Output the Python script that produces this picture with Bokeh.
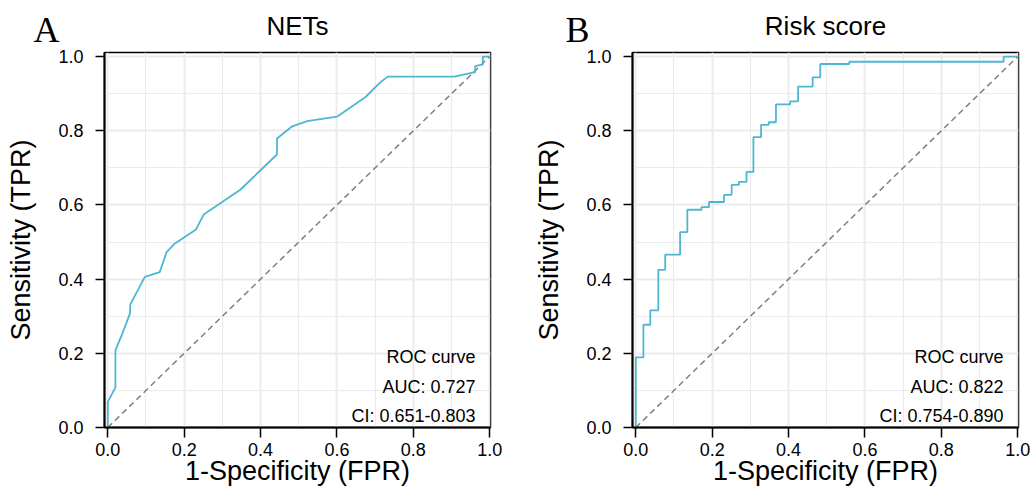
from bokeh.plotting import figure
from bokeh.layouts import row
from bokeh.models import Label, FixedTicker, Range1d, Title
from bokeh.embed import file_html
from bokeh.resources import INLINE

# ---- data ----
tick_values = [0.0, 0.2, 0.4, 0.6, 0.8, 1.0]
tick_labels = ["0.0", "0.2", "0.4", "0.6", "0.8", "1.0"]
minor_values = [0.1, 0.3, 0.5, 0.7, 0.9]

nets_fpr = [0.0, 0.0, 0.020, 0.020, 0.038, 0.058, 0.059, 0.097, 0.136, 0.154,
            0.173, 0.231, 0.251, 0.347, 0.443, 0.443, 0.483, 0.522, 0.600, 0.675,
            0.714, 0.733, 0.907, 0.962, 0.962, 0.982, 0.982, 1.0]
nets_tpr = [0.0, 0.069, 0.108, 0.208, 0.253, 0.307, 0.332, 0.406, 0.419, 0.473,
            0.494, 0.534, 0.574, 0.641, 0.736, 0.779, 0.812, 0.826, 0.838, 0.891,
            0.931, 0.946, 0.946, 0.958, 0.974, 0.979, 1.0, 1.0]

risk_fpr = [0.0, 0.0, 0.020, 0.038, 0.059, 0.077, 0.116, 0.135, 0.172, 0.192,
            0.231, 0.251, 0.270, 0.290, 0.308, 0.328, 0.348, 0.367, 0.404, 0.425,
            0.463, 0.483, 0.559, 0.963, 1.0]
risk_tpr = [0.0, 0.189, 0.277, 0.316, 0.425, 0.466, 0.527, 0.587, 0.594, 0.608,
            0.627, 0.654, 0.662, 0.689, 0.783, 0.816, 0.823, 0.871, 0.879, 0.919,
            0.944, 0.980, 0.986, 1.0, 1.0]

diag = [0.0, 1.0]

nets_text = ["ROC curve", "AUC: 0.727", "CI: 0.651-0.803"]
risk_text = ["ROC curve", "AUC: 0.822", "CI: 0.754-0.890"]

x_title = "1-Specificity (FPR)"
y_title = "Sensitivity (TPR)"

SANS = "Liberation Sans"
SERIF = "Liberation Serif"
CURVE = "#4DB6D3"
GRID = "#EBEBEB"


def make_panel(letter, title, width, left, right, letter_offset):
    p = figure(width=width, height=486,
               x_range=Range1d(-0.0086, 1.002), y_range=Range1d(0.0, 1.011),
               output_backend="svg", toolbar_location=None,
               min_border_left=left, min_border_right=right,
               min_border_top=52, min_border_bottom=59,
               title=title)
    p.background_fill_color = "white"
    p.border_fill_color = "white"
    p.outline_line_color = "black"
    p.outline_line_width = 1.5
    p.title.align = "center"
    p.title.text_font = SANS
    p.title.text_font_size = "26px"
    p.title.text_font_style = "normal"
    p.title.text_color = "black"
    p.title.standoff = -73

    # panel letter: a Title row next to the frame
    p.add_layout(Title(text=letter, align="left", offset=letter_offset,
                       standoff=6, text_font=SERIF, text_font_size="36px",
                       text_font_style="normal", text_color="black"), "above")

    for ax in (p.xaxis[0], p.yaxis[0]):
        ax.ticker = FixedTicker(ticks=tick_values, minor_ticks=minor_values)
        ax.major_label_overrides = {v: s for v, s in zip(tick_values, tick_labels)}
        ax.axis_line_color = "black"
        ax.axis_line_width = 2
        ax.major_tick_line_color = "black"
        ax.major_tick_line_width = 1.5
        ax.major_tick_in = 0
        ax.minor_tick_line_color = None
        ax.major_label_text_font = SANS
        ax.major_label_text_font_size = "18px"
        ax.major_label_text_color = "black"
        ax.axis_label_text_font = SANS
        ax.axis_label_text_font_size = "27px"
        ax.axis_label_text_font_style = "normal"
        ax.axis_label_text_color = "black"

    p.yaxis.axis_label = y_title
    p.xaxis.major_tick_out = 10
    p.xaxis.major_label_standoff = 5
    p.yaxis.major_tick_out = 9
    p.yaxis.major_label_standoff = 12
    p.yaxis.axis_label_standoff = 19

    # x-axis title as a row below the axis (lets it sit low, as in the reference)
    p.add_layout(Title(text=x_title, align="center", standoff=-10,
                       text_font=SANS, text_font_size="27px",
                       text_font_style="normal", text_color="black"), "below")

    for g in (p.xgrid[0], p.ygrid[0]):
        g.grid_line_color = GRID
        g.grid_line_width = 2
        g.minor_grid_line_color = GRID
        g.minor_grid_line_width = 1.2

    p.line(diag, diag, line_color="#7F7F7F", line_width=1.5, line_dash="6 4")
    return p


pA = make_panel("A", "NETs", 515, 104, 25, -71)
pA.line(nets_fpr, nets_tpr, line_color=CURVE, line_width=1.8)

pB = make_panel("B", "Risk score", 516, 117, 13, -67)
pB.step(risk_fpr, risk_tpr, mode="after", line_color=CURVE, line_width=1.8)

for p, lines in ((pA, nets_text), (pB, risk_text)):
    for txt, yy in zip(lines, [0.19, 0.109, 0.030]):
        p.add_layout(Label(x=0.963, y=yy, text=txt, text_font=SANS,
                           text_font_size="18px", text_color="black",
                           text_align="right", text_baseline="alphabetic"))

layout = row(pA, pB)
open("out.html", "w").write(file_html(layout, INLINE))
